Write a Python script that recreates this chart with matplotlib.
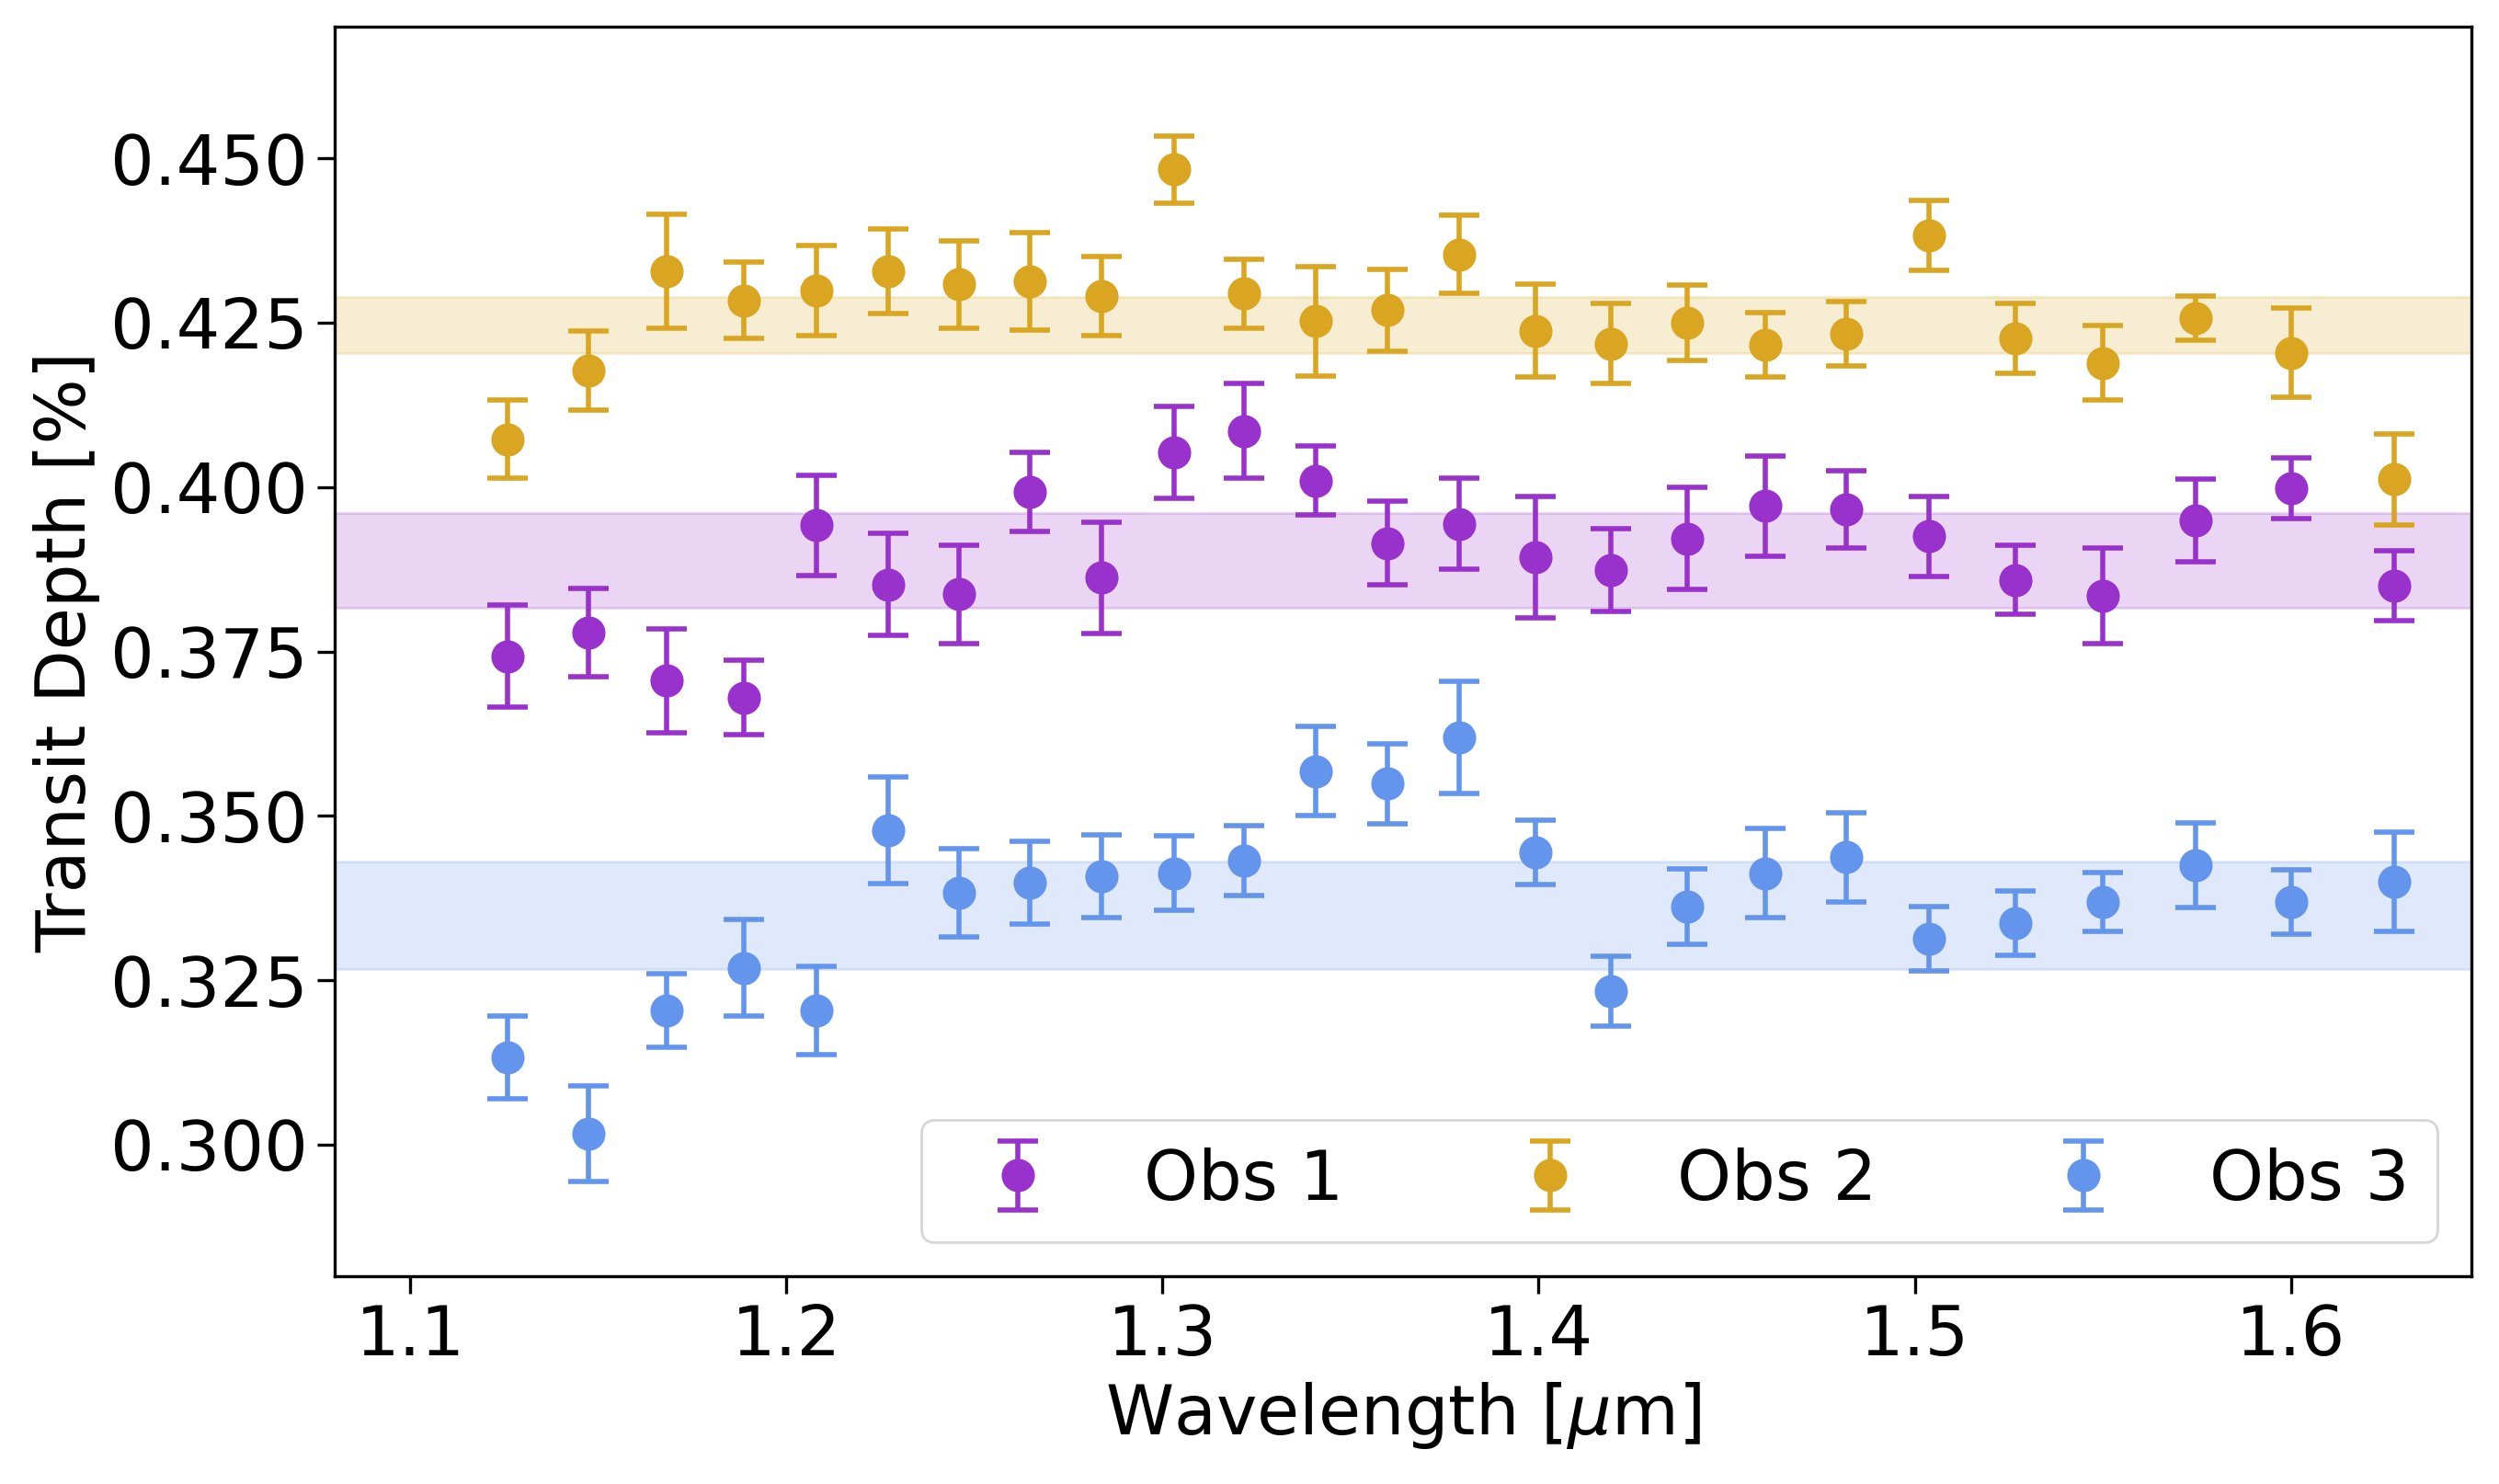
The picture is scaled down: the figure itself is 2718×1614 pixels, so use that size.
import matplotlib
matplotlib.use("Agg")
import matplotlib.pyplot as plt
import numpy as np

wavelength = [1.1258, 1.1475, 1.1682, 1.1886, 1.2081, 1.2271, 1.2458, 1.2648, 1.2839, 1.3030,
              1.3216, 1.3407, 1.3597, 1.3788, 1.3992, 1.4191, 1.4394, 1.4602, 1.4818, 1.5038,
              1.5267, 1.5500, 1.5746, 1.6000, 1.6275]

obs1 = [0.3743, 0.3779, 0.3706, 0.3680, 0.3942, 0.3852, 0.3837, 0.3993, 0.3862, 0.4053,
        0.4085, 0.4010, 0.3915, 0.3944, 0.3893, 0.3874, 0.3922, 0.3971, 0.3966, 0.3925,
        0.3859, 0.3835, 0.3949, 0.3998, 0.3850]
obs1_err = [0.0078, 0.0067, 0.0079, 0.0057, 0.0076, 0.0078, 0.0075, 0.0060, 0.0084, 0.0070,
            0.0072, 0.0052, 0.0063, 0.0069, 0.0092, 0.0063, 0.0078, 0.0076, 0.0059, 0.0061,
            0.0053, 0.0073, 0.0063, 0.0046, 0.0053]

obs2 = [0.4073, 0.4177, 0.4328, 0.4284, 0.4299, 0.4328, 0.4308, 0.4313, 0.4291, 0.4483,
        0.4294, 0.4252, 0.4269, 0.4354, 0.4238, 0.4218, 0.4250, 0.4216, 0.4233, 0.4383,
        0.4226, 0.4189, 0.4257, 0.4204, 0.4012]
obs2_err = [0.0060, 0.0060, 0.0087, 0.0058, 0.0069, 0.0064, 0.0066, 0.0074, 0.0060, 0.0051,
            0.0053, 0.0083, 0.0062, 0.0060, 0.0070, 0.0061, 0.0057, 0.0049, 0.0049, 0.0053,
            0.0053, 0.0056, 0.0033, 0.0068, 0.0069]

obs3 = [0.3133, 0.3017, 0.3204, 0.3269, 0.3204, 0.3478, 0.3383, 0.3398, 0.3408, 0.3413,
        0.3432, 0.3568, 0.3549, 0.3619, 0.3444, 0.3233, 0.3362, 0.3413, 0.3437, 0.3313,
        0.3337, 0.3369, 0.3425, 0.3369, 0.3400]
obs3_err = [0.0063, 0.0073, 0.0056, 0.0073, 0.0067, 0.0081, 0.0067, 0.0063, 0.0063, 0.0057,
            0.0053, 0.0068, 0.0061, 0.0085, 0.0049, 0.0053, 0.0057, 0.0068, 0.0068, 0.0049,
            0.0049, 0.0045, 0.0064, 0.0049, 0.0076]

bands = {
    "Obs 1": (0.3816, 0.3961),
    "Obs 2": (0.4204, 0.4289),
    "Obs 3": (0.3267, 0.3430),
}

labels = ["Obs 1", "Obs 2", "Obs 3"]
colors = ["#9932CC", "#DAA520", "#6495ED"]
series = [obs1, obs2, obs3]
errors = [obs1_err, obs2_err, obs3_err]

fig = plt.figure(figsize=(13.59, 8.07), dpi=200)
ax = fig.add_axes([0.134, 0.140, 0.855, 0.842])

for lab, col, y, e in zip(labels, colors, series, errors):
    lo, hi = bands[lab]
    ax.axhspan(lo, hi, color=col, alpha=0.2, zorder=1)
    ax.errorbar(wavelength, y, yerr=e, fmt='o', color=col, ecolor=col,
                markersize=12, capsize=8, elinewidth=2, capthick=2,
                label=lab, zorder=3)

ax.set_xlim(1.08, 1.648)
ax.set_ylim(0.280, 0.470)
ax.set_xticks([1.1, 1.2, 1.3, 1.4, 1.5, 1.6])
ax.set_yticks([0.300, 0.325, 0.350, 0.375, 0.400, 0.425, 0.450])
ax.yaxis.set_major_formatter(matplotlib.ticker.FormatStrFormatter('%.3f'))
ax.tick_params(labelsize=27, width=1.2, length=7)
for s in ax.spines.values():
    s.set_linewidth(1.2)
ax.set_xlabel(r"Wavelength [$\mu$m]", fontsize=27)
ax.set_ylabel("Transit Depth [%]", fontsize=27)
ax.legend(loc='lower right', ncol=3, fontsize=27, columnspacing=2.0,
          handletextpad=0.83)

fig.savefig("out.png", dpi=200)
